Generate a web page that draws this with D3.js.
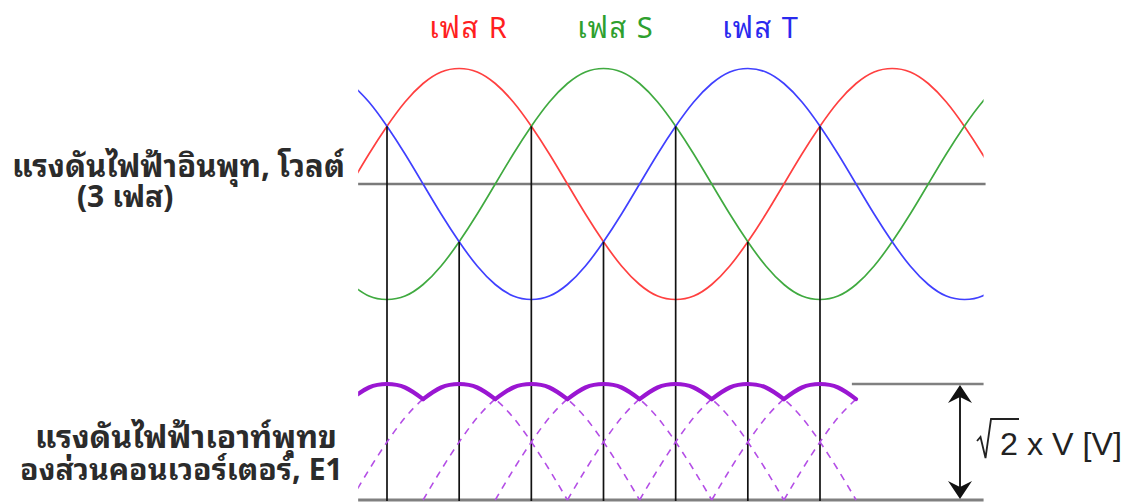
<!DOCTYPE html>
<html>
<head>
<meta charset="utf-8">
<script src="https://cdn.jsdelivr.net/npm/d3@7"></script>
<style>
  html, body { margin: 0; padding: 0; background: #fff; }
  svg { display: block; }
  .thai { font-family: "Noto Sans Thai Looped", "Tahoma", "Loma", "Garuda", "Waree", "Norasi", "Noto Sans Thai", "Noto Sans", "DejaVu Sans", sans-serif; }
</style>
</head>
<body>
<svg id="chart" width="1126" height="504"></svg>
<script>
// ---------- DATA ----------
// electrical angle in degrees
const angles = [0,15,30,45,60,75,90,105,120,135,150,165,180,195,210,225,240,255,270,285,300,315,330,345,360,375,390,405,420,435,450,465,480,495,510,525,540];
// normalised input phase voltages
const phaseR = [0,0.26,0.5,0.71,0.87,0.97,1,0.97,0.87,0.71,0.5,0.26,0,-0.26,-0.5,-0.71,-0.87,-0.97,-1,-0.97,-0.87,-0.71,-0.5,-0.26,0,0.26,0.5,0.71,0.87,0.97,1,0.97,0.87,0.71,0.5,0.26,0];
const phaseS = [-0.87,-0.97,-1,-0.97,-0.87,-0.71,-0.5,-0.26,0,0.26,0.5,0.71,0.87,0.97,1,0.97,0.87,0.71,0.5,0.26,0,-0.26,-0.5,-0.71,-0.87,-0.97,-1,-0.97,-0.87,-0.71,-0.5,-0.26,0,0.26,0.5,0.71,0.87];
const phaseT = [0.87,0.71,0.5,0.26,0,-0.26,-0.5,-0.71,-0.87,-0.97,-1,-0.97,-0.87,-0.71,-0.5,-0.26,0,0.26,0.5,0.71,0.87,0.97,1,0.97,0.87,0.71,0.5,0.26,0,-0.26,-0.5,-0.71,-0.87,-0.97,-1,-0.97,-0.87];
const phaseNames = ["เฟส R", "เฟส S", "เฟส T"];
const phaseColors = ["#ff4040", "#40aa40", "#4040ff"];
const labelColors = ["#ff1f1f", "#2ea02e", "#2a2aee"];
// commutation points (where two phases cross) and their level
const crossAngles = [30, 90, 150, 210, 270, 330, 390];
const crossLevels = [0.5, -0.5, 0.5, -0.5, 0.5, -0.5, 0.5];
// output ripple: segments between the dips
const dipAngles = [0, 60, 120, 180, 240, 300, 360, 420];
// dashed half-wave arches of each phase: [phase index, start angle, end angle]
const archPhase = [0, 2, 1, 0, 2, 1, 0];
const archStart = [0, 60, 120, 180, 240, 300, 360];
const archEnd   = [180, 240, 300, 360, 420, 480, 540];
const inputStart = 6, inputEnd = 526, outputEnd = 420;
const peakLevel = 1;
const inputLabel = ["แรงดันไฟฟ้าอินพุท, โวลต์", "(3 เฟส)"];
const outputLabel = ["แรงดันไฟฟ้าเอาท์พุทข", "องส่วนคอนเวอร์เตอร์, E1"];
const ampText = "2 x V [V]";

// ---------- DRAWING ----------
const svg = d3.select("#chart");
const phases = [phaseR, phaseS, phaseT];

const x = d3.scaleLinear().domain([30, 390]).range([387, 820]);
const yTop = d3.scaleLinear().domain([-1, 1]).range([299.5, 68.5]);
const yBot = d3.scaleLinear().domain([0, 1]).range([500, 384]);

const defs = svg.append("defs");
defs.append("clipPath").attr("id", "clipTop").append("rect")
  .attr("x", x(inputStart)).attr("y", 0).attr("width", x(inputEnd) - x(inputStart)).attr("height", 330);
defs.append("clipPath").attr("id", "clipBot").append("rect")
  .attr("x", x(inputStart)).attr("y", 360).attr("width", 700).attr("height", 150);

// zero line
svg.append("line")
  .attr("x1", x(inputStart)).attr("x2", x(inputEnd) + 2)
  .attr("y1", yTop(0)).attr("y2", yTop(0))
  .attr("stroke", "#7a7a7a").attr("stroke-width", 2.6);

// base line of output
svg.append("line")
  .attr("x1", x(inputStart)).attr("x2", x(inputEnd))
  .attr("y1", yBot(0)).attr("y2", yBot(0))
  .attr("stroke", "#808080").attr("stroke-width", 3);
// peak reference line
svg.append("line")
  .attr("x1", x(416.5)).attr("x2", x(inputEnd))
  .attr("y1", yBot(peakLevel)).attr("y2", yBot(peakLevel))
  .attr("stroke", "#808080").attr("stroke-width", 2.4);

// input phase curves
const lineTop = d3.line().x((d, i) => x(angles[i])).y(d => yTop(d)).curve(d3.curveNatural);
const gTop = svg.append("g").attr("clip-path", "url(#clipTop)");
phases.forEach((vals, k) => {
  gTop.append("path")
    .attr("d", lineTop(vals))
    .attr("fill", "none")
    .attr("stroke", phaseColors[k])
    .attr("stroke-width", 1.7);
});

// vertical commutation lines
svg.append("g").selectAll("line").data(crossAngles).join("line")
  .attr("x1", d => x(d)).attr("x2", d => x(d))
  .attr("y1", (d, i) => yTop(crossLevels[i]))
  .attr("y2", yBot(0) + 1)
  .attr("stroke", "#111").attr("stroke-width", 1.7);

// output: dashed arches
const gBot = svg.append("g").attr("clip-path", "url(#clipBot)");
const lineBot = d3.line().x(d => x(d[0])).y(d => yBot(d[1])).curve(d3.curveNatural);
archPhase.forEach((p, j) => {
  const pts = [];
  angles.forEach((a, i) => {
    if (a >= archStart[j] && a <= Math.min(archEnd[j], outputEnd)) pts.push([a, Math.abs(phases[p][i])]);
  });
  gBot.append("path")
    .attr("d", lineBot(pts))
    .attr("fill", "none")
    .attr("stroke", "#b44ee6")
    .attr("stroke-width", 1.6)
    .attr("stroke-dasharray", "7,6");
});

// output: rectified envelope (max of |phase|), drawn segment by segment
for (let s = 0; s < dipAngles.length - 1; s++) {
  const pts = [];
  angles.forEach((a, i) => {
    if (a >= dipAngles[s] && a <= dipAngles[s + 1]) {
      pts.push([a, d3.max(phases, ph => Math.abs(ph[i]))]);
    }
  });
  gBot.append("path")
    .attr("d", lineBot(pts))
    .attr("fill", "none")
    .attr("stroke", "#9a16d2")
    .attr("stroke-width", 4.2)
    .attr("stroke-linecap", "round");
}

// double arrow
const ax = 960;
svg.append("line")
  .attr("x1", ax).attr("x2", ax)
  .attr("y1", yBot(peakLevel) + 6).attr("y2", yBot(0) - 6)
  .attr("stroke", "#222").attr("stroke-width", 2);
const yT = yBot(peakLevel) + 1, yB = yBot(0) - 1;
svg.append("path")
  .attr("d", `M${ax},${yT} L${ax - 12},${yT + 18} L${ax},${yT + 12} L${ax + 12},${yT + 18} Z`)
  .attr("fill", "#111");
svg.append("path")
  .attr("d", `M${ax},${yB} L${ax - 12},${yB - 18} L${ax},${yB - 12} L${ax + 12},${yB - 18} Z`)
  .attr("fill", "#111");

// fit a text/tspan element's font size so it spans the given width
function fitWidth(sel, target, base) {
  sel.attr("font-size", base);
  const w = sel.node().getComputedTextLength();
  if (w > 0) sel.attr("font-size", (base * target / w).toFixed(2));
}

// radical sign and amplitude text
svg.append("path")
  .attr("d", "M977,441 L980.5,437 L985.5,458 L991,419 L1019,419")
  .attr("fill", "none").attr("stroke", "#222").attr("stroke-width", 1.8);
const amp = svg.append("text")
  .attr("x", 1000).attr("y", 455)
  .attr("font-family", "Liberation Sans, Arial, sans-serif")
  .attr("fill", "#222")
  .text(ampText);
fitWidth(amp, 122, 31);

// phase names
const nameX = [429, 577, 722];
svg.append("g").selectAll("text").data(phaseNames).join("text")
  .attr("class", "thai")
  .attr("x", (d, i) => nameX[i]).attr("y", 38)
  .attr("font-size", 29)
  .attr("letter-spacing", 1.5)
  .attr("fill", (d, i) => labelColors[i])
  .text(d => d);

// left labels (each a single two-line text)
const lab = svg.append("g").attr("class", "thai").attr("fill", "#2b2b2b").attr("font-weight", "bold").attr("font-size", 30);
const t1 = lab.append("text");
fitWidth(t1.append("tspan").attr("x", 12).attr("y", 177).text(inputLabel[0]), 333, 32);
t1.append("tspan").attr("x", 77).attr("y", 207).attr("font-size", 30).text(inputLabel[1]);
const t2 = lab.append("text");
fitWidth(t2.append("tspan").attr("x", 35).attr("y", 448).text(outputLabel[0]), 302, 32);
fitWidth(t2.append("tspan").attr("x", 20).attr("y", 480).text(outputLabel[1]), 323, 32);
</script>
</body>
</html>
